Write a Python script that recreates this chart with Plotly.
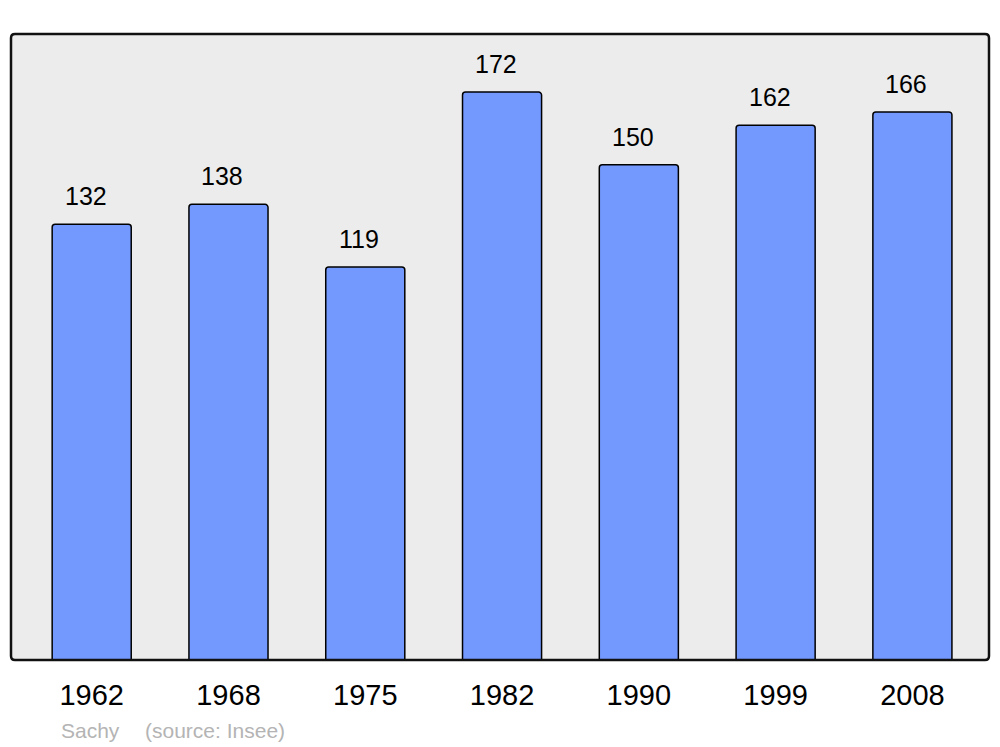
import plotly.graph_objects as go

years = ["1962", "1968", "1975", "1982", "1990", "1999", "2008"]
population = [132, 138, 119, 172, 150, 162, 166]
commune = "Sachy"
source = "(source: Insee)"

W, H = 1000, 747
L, T = 11, 34
R = W - 989
B = H - 660
pw = W - L - R
ph = H - T - B

fig = go.Figure()
fig.add_trace(go.Bar(
    x=years, y=population, width=0.578,
    marker=dict(color="#7399ff", line=dict(color="black", width=1.5)),
    hoverinfo="skip",
))

for i, v in enumerate(population):
    fig.add_annotation(x=i, y=v, text=str(v), showarrow=False,
                       yanchor="bottom", yshift=12, xshift=-6,
                       font=dict(family="Liberation Sans", size=25, color="black"))

ysrc = (660 - 730) / ph
fig.add_annotation(xref="paper", yref="paper", x=(59 - L) / pw, y=ysrc,
                   xanchor="left", yanchor="middle", text=commune, showarrow=False,
                   font=dict(family="Liberation Sans", size=21, color="#b4b4b4"))
fig.add_annotation(xref="paper", yref="paper", x=(143 - L) / pw, y=ysrc,
                   xanchor="left", yanchor="middle", text=source, showarrow=False,
                   font=dict(family="Liberation Sans", size=21, color="#b4b4b4"))

# rounded frame
rx, ry = 4 / pw, 4 / ph
path = (f"M {rx},0 L {1-rx},0 Q 1,0 1,{ry} L 1,{1-ry} Q 1,1 {1-rx},1 "
        f"L {rx},1 Q 0,1 0,{1-ry} L 0,{ry} Q 0,0 {rx},0 Z")
fig.add_shape(type="path", xref="paper", yref="paper", path=path,
              fillcolor="#ececec", line=dict(width=0), layer="below")
fig.add_shape(type="path", xref="paper", yref="paper", path=path,
              line=dict(color="#111111", width=2.5), layer="above")

fig.update_layout(
    width=W, height=H,
    margin=dict(l=L, r=R, t=T, b=B, autoexpand=False),
    paper_bgcolor="white", plot_bgcolor="white",
    barcornerradius=3,
    showlegend=False,
    xaxis=dict(type="category", range=[-0.59, 6.56], showgrid=False, zeroline=False,
               ticks="outside", ticklen=9, tickcolor="rgba(0,0,0,0)",
               tickfont=dict(family="Liberation Sans", size=29, color="black"),
               showline=False),
    yaxis=dict(range=[0, 189.6], showgrid=False, zeroline=False, showticklabels=False,
               showline=False),
)

fig.write_html("out.html", config={"displayModeBar": False},
               post_script="document.body.style.margin='0px';document.body.style.overflow='hidden';")
